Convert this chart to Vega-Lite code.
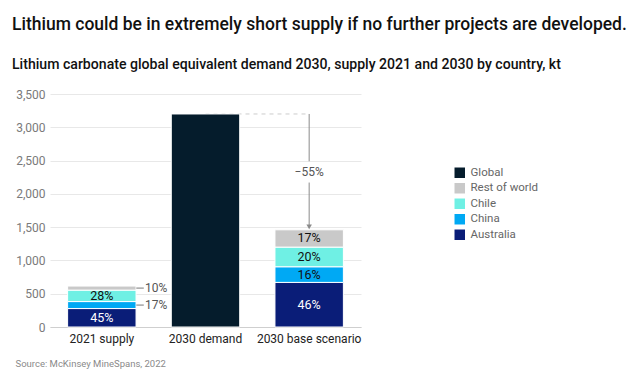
{
  "$schema": "https://vega.github.io/schema/vega-lite/v6.json",
  "autosize": {"type": "none"},
  "width": 311,
  "height": 233,
  "padding": {"left": 50, "top": 94, "right": 279, "bottom": 63},
  "background": "white",
  "config": {
    "font": "Roboto",
    "view": {"stroke": null},
    "axis": {"labelFont": "Roboto", "titleFont": "Roboto"},
    "axisY": {
      "labelColor": "#7a7a7a",
      "labelFontSize": 12,
      "labelPadding": 5,
      "ticks": false,
      "domain": false,
      "gridColor": "#e8e8e8",
      "gridWidth": 1,
      "tickCount": 8
    }
  },
  "title": {
    "text": "Lithium could be in extremely short supply if no further projects are developed.",
    "subtitle": "Lithium carbonate global equivalent demand 2030, supply 2021 and 2030 by country, kt",
    "anchor": "start",
    "frame": "group",
    "dx": -38,
    "offset": 16,
    "font": "Roboto",
    "fontSize": 17.5,
    "fontWeight": 500,
    "color": "#111111",
    "subtitleFont": "Roboto",
    "subtitleFontSize": 14.1,
    "subtitleFontWeight": 500,
    "subtitleColor": "#111111",
    "subtitlePadding": 24
  },
  "datasets": {
    "bars": [
      {"category": "2021 supply", "country": "Australia", "value": 277, "rank": 1, "pct": "45%"},
      {"category": "2021 supply", "country": "China", "value": 105, "rank": 2, "pct": "17%"},
      {"category": "2021 supply", "country": "Chile", "value": 172, "rank": 3, "pct": "28%"},
      {"category": "2021 supply", "country": "Rest of world", "value": 61, "rank": 4, "pct": "10%"},
      {"category": "2030 demand", "country": "Global", "value": 3200, "rank": 1, "pct": null},
      {"category": "2030 base scenario", "country": "Australia", "value": 670, "rank": 1, "pct": "46%"},
      {"category": "2030 base scenario", "country": "China", "value": 235, "rank": 2, "pct": "16%"},
      {"category": "2030 base scenario", "country": "Chile", "value": 295, "rank": 3, "pct": "20%"},
      {"category": "2030 base scenario", "country": "Rest of world", "value": 260, "rank": 4, "pct": "17%"}
    ],
    "gap": [
      {"from": "2030 demand", "to": "2030 base scenario", "level": 3200}
    ],
    "arrow": [
      {"category": "2030 base scenario", "start": 3200, "end": 2490},
      {"category": "2030 base scenario", "start": 2170, "end": 1510}
    ],
    "arrowhead": [
      {"category": "2030 base scenario", "tip": 1505, "label": "−55%", "labelLevel": 2330}
    ]
  },
  "encoding": {
    "x": {
      "field": "category",
      "type": "nominal",
      "sort": ["2021 supply", "2030 demand", "2030 base scenario"],
      "scale": {"domain": ["2021 supply", "2030 demand", "2030 base scenario"], "paddingInner": 0.34, "paddingOuter": 0.17},
      "axis": {
        "title": "Source: McKinsey MineSpans, 2022",
        "titleAnchor": "start",
        "titleAlign": "left",
        "titleX": -35,
        "titleY": 31,
        "titleFontSize": 9.5,
        "titleFontWeight": "normal",
        "titleColor": "#8a8a8a",
        "labelAngle": 0,
        "labelFontSize": 12,
        "labelColor": "#222222",
        "labelPadding": 6,
        "ticks": false,
        "domainColor": "#cfcfcf",
        "domainWidth": 1
      }
    }
  },
  "layer": [
    {
      "data": {"name": "gap"},
      "mark": {"type": "rule", "color": "#cccccc", "strokeDash": [4, 4], "strokeWidth": 1},
      "encoding": {
        "x": {"field": "from", "type": "nominal"},
        "x2": {"field": "to"},
        "y": {
          "field": "level",
          "type": "quantitative",
          "scale": {"domain": [0, 3500]},
          "axis": {
            "title": null,
            "values": [0, 500, 1000, 1500, 2000, 2500, 3000, 3500],
            "format": ",.0f"
          }
        }
      }
    },
    {
      "data": {"name": "bars"},
      "mark": {"type": "bar", "stroke": "white", "strokeWidth": 1},
      "encoding": {
        "y": {
          "field": "value",
          "type": "quantitative",
          "stack": "zero",
          "scale": {"domain": [0, 3500]},
          "axis": {
            "title": null,
            "values": [0, 500, 1000, 1500, 2000, 2500, 3000, 3500],
            "format": ",.0f"
          }
        },
        "color": {
          "field": "country",
          "type": "nominal",
          "scale": {
            "domain": ["Global", "Rest of world", "Chile", "China", "Australia"],
            "range": ["#051c2c", "#c9c9c9", "#6ff0e4", "#00a9f4", "#0a1d78"]
          },
          "legend": {
            "title": null,
            "orient": "none",
            "legendX": 404,
            "legendY": 73,
            "symbolType": "square",
            "symbolSize": 110,
            "symbolStrokeWidth": 0,
            "labelFontSize": 11.5,
            "labelColor": "#666666",
            "rowPadding": 2.5,
            "labelOffset": 5
          }
        },
        "order": {"field": "rank", "type": "quantitative"}
      }
    },
    {
      "data": {"name": "bars"},
      "transform": [{"filter": "datum.pct != null"}],
      "mark": {"type": "text", "fontSize": 12.5, "baseline": "middle", "align": "center"},
      "encoding": {
        "y": {"field": "value", "type": "quantitative", "stack": "zero", "bandPosition": 0.5},
        "detail": {"field": "country"},
        "order": {"field": "rank", "type": "quantitative"},
        "text": {"field": "pct"},
        "opacity": {
          "condition": {"test": "datum.value < 120", "value": 0},
          "value": 1
        },
        "color": {
          "condition": {"test": "datum.country === 'Australia'", "value": "#ffffff"},
          "value": "#111111"
        }
      }
    },
    {
      "data": {"name": "bars"},
      "transform": [{"filter": "datum.pct != null"}],
      "mark": {"type": "point", "shape": "M-1,0L1,0", "filled": false, "size": 56, "strokeWidth": 1, "color": "#777777", "xOffset": 4},
      "encoding": {
        "x": {"field": "category", "type": "nominal", "bandPosition": 1},
        "y": {"field": "value", "type": "quantitative", "stack": "zero", "bandPosition": 0.5},
        "detail": {"field": "country"},
        "order": {"field": "rank", "type": "quantitative"},
        "opacity": {
          "condition": {"test": "datum.value >= 120", "value": 0},
          "value": 1
        }
      }
    },
    {
      "data": {"name": "bars"},
      "transform": [{"filter": "datum.pct != null"}],
      "mark": {"type": "text", "fontSize": 12, "align": "left", "baseline": "middle", "dx": 9, "color": "#555555"},
      "encoding": {
        "x": {"field": "category", "type": "nominal", "bandPosition": 1},
        "y": {"field": "value", "type": "quantitative", "stack": "zero", "bandPosition": 0.5},
        "detail": {"field": "country"},
        "order": {"field": "rank", "type": "quantitative"},
        "text": {"field": "pct"},
        "opacity": {
          "condition": {"test": "datum.value >= 120", "value": 0},
          "value": 1
        }
      }
    },
    {
      "data": {"name": "arrow"},
      "mark": {"type": "rule", "color": "#8a8a8a", "strokeWidth": 1},
      "encoding": {
        "y": {"field": "start", "type": "quantitative"},
        "y2": {"field": "end"}
      }
    },
    {
      "data": {"name": "arrowhead"},
      "mark": {"type": "point", "shape": "triangle-down", "filled": true, "color": "#8a8a8a", "size": 30, "opacity": 1},
      "encoding": {
        "y": {"field": "tip", "type": "quantitative"}
      }
    },
    {
      "data": {"name": "arrowhead"},
      "mark": {"type": "text", "fontSize": 12, "color": "#555555", "baseline": "middle"},
      "encoding": {
        "y": {"field": "labelLevel", "type": "quantitative"},
        "text": {"field": "label"}
      }
    }
  ]
}
